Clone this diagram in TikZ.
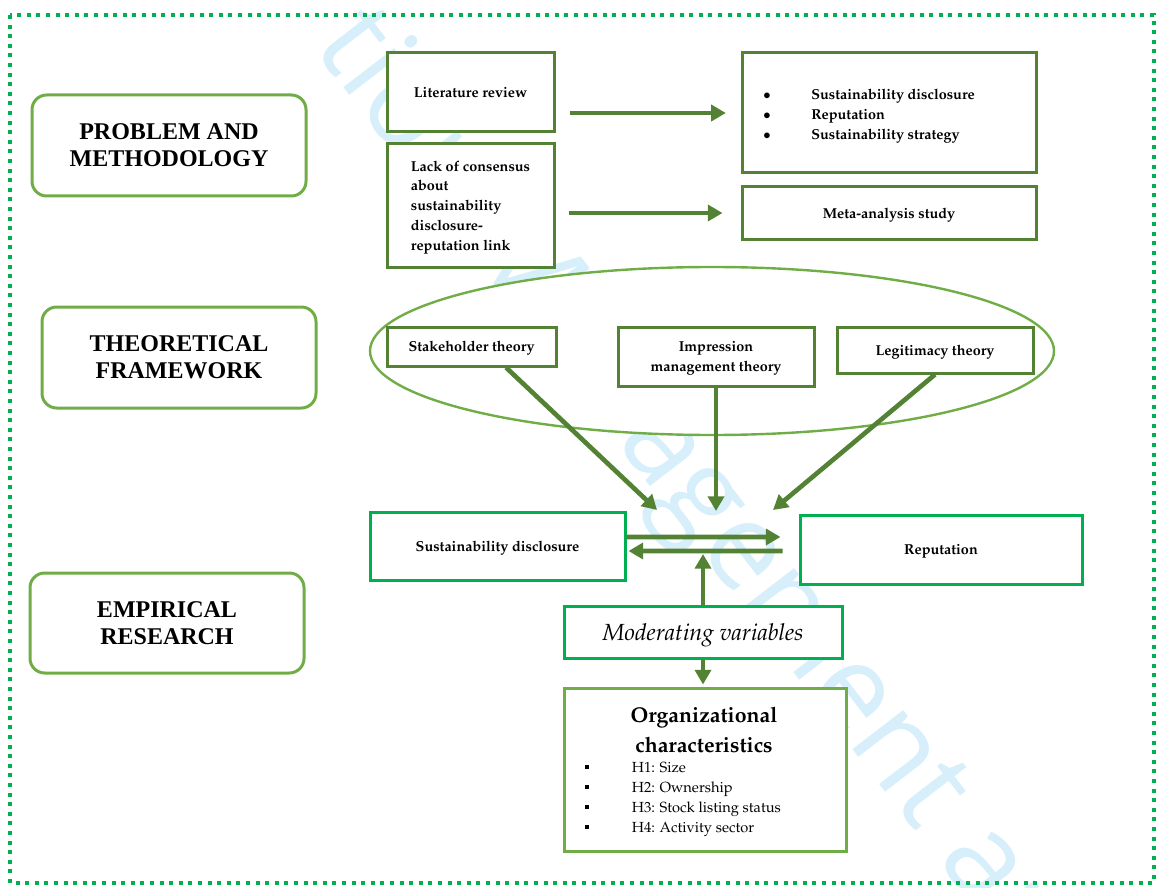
\documentclass[tikz,border=0pt]{standalone}
\usepackage[T1]{fontenc}
\usepackage{fontspec}
\usetikzlibrary{arrows.meta,shapes.geometric}
\newfontfamily\headfont{Liberation Serif}
\newfontfamily\wmfont{Open Sans}
\newcommand\pal{\fontencoding{T1}\fontfamily{ppl}\selectfont}
\definecolor{dkgreen}{RGB}{84,130,53}
\definecolor{ltgreen}{RGB}{112,173,71}
\definecolor{brgreen}{RGB}{0,176,80}
\definecolor{wmblue}{RGB}{214,239,251}
\newcommand\sqb{\rule[0.18em]{3pt}{3pt}}
\begin{document}
\begin{tikzpicture}[x=0.75pt,y=-0.75pt,
  sz/.style 2 args={minimum width=#1*0.75pt,minimum height=#2*0.75pt},
  pbox/.style={draw=dkgreen,line width=2.25pt,fill=white,inner sep=0pt,text depth=0pt,
    font=\pal\bfseries\fontsize{10.8}{14.8}\selectfont,align=center},
  gbox/.style={pbox,draw=brgreen},
  lbox/.style={pbox,draw=ltgreen},
  rbox/.style={draw=ltgreen,line width=2.25pt,fill=white,rounded corners=11pt,inner sep=0pt,
    font=\headfont\bfseries\fontsize{18}{20.5}\selectfont,align=center},
  arr/.style={draw=dkgreen,line width=3.5pt,-{Triangle[length=11pt,width=12pt]}},
  txt/.style={inner sep=0pt,align=left}]
\useasboundingbox (0,0) rectangle (1160,888);
\begin{scope}
\clip (0,0) rectangle (1160,888);
\node[rotate=-52.4,text=wmblue,font=\wmfont\fontsize{90}{90}\selectfont,inner sep=0pt] (wmk) at (714,518) {tion Management and};
\end{scope}
% frame
\draw[brgreen,line width=3pt,dash pattern=on 3pt off 4.2pt] (10,15) rectangle (1154,883);
% left headings
\node[rbox,sz={274}{101}] (pm) at (169,145.5) {PROBLEM AND\\METHODOLOGY};
\node[rbox,sz={274}{101}] (tf) at (179,357.5) {THEORETICAL\\FRAMEWORK};
\node[rbox,sz={274}{100}] (er) at (167,623) {EMPIRICAL\\RESEARCH};
% problem and methodology
\node[pbox,sz={167}{79}] (lit) at (470.5,92.5) {Literature review};
\node[pbox,sz={167}{123},align=left] (lack) at (470.5,205.5) {Lack of consensus\\about\\sustainability\\disclosure-\\reputation link};
\node[pbox,sz={294}{120}] (top) at (889,113) {};
\node[txt,anchor=west,font=\pal\bfseries\fontsize{10.8}{15}\selectfont] (toplist) at (763,116)
  {\makebox[36pt][l]{$\bullet$}Sustainability disclosure\\\makebox[36pt][l]{$\bullet$}Reputation\\\makebox[36pt][l]{$\bullet$}Sustainability strategy};
\node[pbox,sz={294}{52}] (meta) at (889,213) {Meta-analysis study};
\draw[arr,shorten <=10.5pt,shorten >=11pt] (lit.east |- top.west) -- (top.west);
\draw[arr,shorten <=9.75pt,shorten >=13.5pt] (lack.east |- meta.west) -- (meta.west);
% theoretical framework
\node[draw=ltgreen,line width=1.8pt,fill=white,ellipse,inner sep=0pt,
  minimum width=513pt,minimum height=126pt] (ell) at (712,351) {};
\node[pbox,sz={169}{39}] (stake) at (471.5,346.5) {Stakeholder theory};
\node[pbox,sz={196}{59}] (impr) at (716,356.5) {Impression\\management theory};
\node[pbox,sz={196}{46}] (legit) at (935,350) {Legitimacy theory};
% empirical
\node[gbox,sz={255}{68}] (sd) at (497.5,546) {Sustainability disclosure};
\node[gbox,sz={282}{69}] (rep) at (941,549.5) {Reputation};
\node[gbox,sz={278}{52},font=\pal\itshape\fontsize{17.5}{20}\selectfont] (mod) at (703,632) {Moderating variables};
\node[lbox,sz={282}{163}] (org) at (705,769.5) {};
\node[txt,align=center,font=\pal\bfseries\fontsize{16}{22}\selectfont] (orgt) at (704,730) {Organizational\\characteristics};
\node[txt,anchor=west,font=\pal\fontsize{11}{15}\selectfont] (orgl) at (585,799)
  {\makebox[35pt][l]{\sqb}H1: Size\\\makebox[35pt][l]{\sqb}H2: Ownership\\\makebox[35pt][l]{\sqb}H3: Stock listing status\\\makebox[35pt][l]{\sqb}H4: Activity sector};
\coordinate (t1) at (657,510);
\coordinate (t2) at (716,511);
\coordinate (t3) at (773,510);
\coordinate (t4) at (703,554);
\draw[arr] ([xshift=25.9pt]stake.south) -- (t1);
\draw[arr] (impr.south) -- (t2);
\draw[arr] (legit.south) -- (t3);
\draw[arr,shorten >=13.5pt] ([yshift=6.75pt]sd.east) -- ([yshift=9.4pt]rep.west);
\draw[arr,shorten <=12pt,shorten >=1.5pt] ([yshift=-1.1pt]rep.west) -- ([yshift=-3.75pt]sd.east);
\draw[arr] (mod.north) -- (t4);
\draw[arr,shorten >=1.5pt] (mod.south) -- (mod.south |- org.north);
\end{tikzpicture}
\end{document}
